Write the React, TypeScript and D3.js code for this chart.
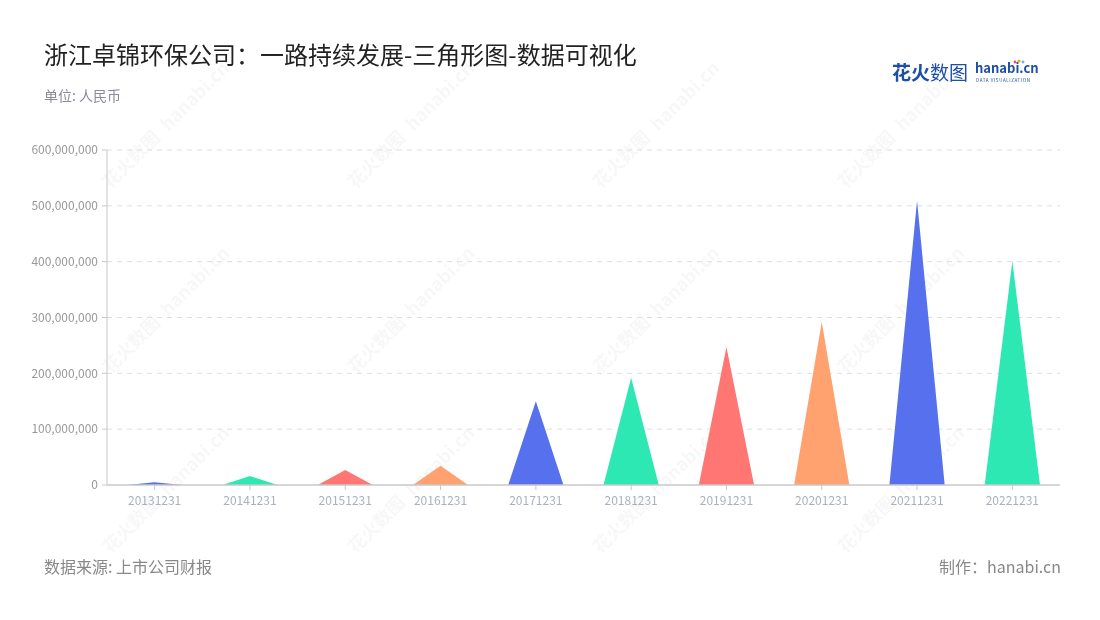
import React from "react";
import * as d3 from "d3";

const categories = ["20131231","20141231","20151231","20161231","20171231","20181231","20191231","20201231","20211231","20221231"];
const values = [5000000, 16000000, 27000000, 34500000, 150000000, 192000000, 247000000, 292000000, 509000000, 401000000];
const colors = ["#5670EE", "#2EE8B3", "#FF7672", "#FFA26F"];
const yTicks = [0, 100000000, 200000000, 300000000, 400000000, 500000000, 600000000];

const W = 1100, H = 620;
const M = { left: 107, right: 1060, top: 150, bottom: 485 };
const FONT = "'Noto Sans CJK SC', 'Noto Sans', sans-serif";

export default function App() {
  const x = d3.scaleBand<string>().domain(categories).range([M.left, M.right]).padding(0);
  const y = d3.scaleLinear().domain([0, 600000000]).range([M.bottom, M.top]);
  const fmt = d3.format(",");
  const halfBase = x.bandwidth() * 0.29;

  const wmX = [150, 395, 640, 885];
  const wmY = [150, 335, 515];

  return (
    <svg width={W} height={H} style={{ display: "block", position: "absolute", left: 0, top: 0 }} fontFamily={FONT}>
      <rect width={W} height={H} fill="#fff" />
      {/* watermarks */}
      <g opacity={0.035} fill="#000">
        {wmY.map((wy) =>
          wmX.map((wx) => (
            <g key={`${wx}-${wy}`} transform={`translate(${wx},${wy}) rotate(-45)`}>
              <text x={-20} y={0} fontSize={18} fontWeight={700} textAnchor="middle">花火数图</text>
              <text x={70} y={0} fontSize={18} fontWeight={700} textAnchor="middle">hanabi.cn</text>
            </g>
          ))
        )}
      </g>

      <text x={44} y={64} fontSize={24} fill="#222">浙江卓锦环保公司：一路持续发展-三角形图-数据可视化</text>
      <text x={44} y={101} fontSize={14} fill="#8a8a99">单位: 人民币</text>

      {/* logo */}
      <g>
        <text x={892} y={80} fontSize={19} fontWeight={700} fill="#1d4ea8">花火</text>
        <text x={930} y={80} fontSize={19} fill="#1d4ea8">数图</text>
        <text x={975} y={73} fontSize={13} fontWeight={700} fill="#1d4ea8">hanabi.cn</text>
        <text x={976} y={82} fontSize={4.5} fill="#1d4ea8" letterSpacing={0.6}>DATA VISUALIZATION</text>
        <circle cx={1019} cy={61} r={1.6} fill="#f5a623" />
        <circle cx={1015} cy={62} r={1.4} fill="#e94e77" />
        <circle cx={1023} cy={62} r={1.4} fill="#4cc3f5" />
      </g>

      {/* grid */}
      {yTicks.filter((t) => t > 0).map((t) => (
        <line key={t} x1={M.left} x2={M.right} y1={y(t)} y2={y(t)} stroke="#dedede" strokeDasharray="5,5" />
      ))}

      {/* y axis */}
      <line x1={M.left} x2={M.left} y1={M.top} y2={M.bottom} stroke="#c8c8c8" strokeWidth={1} />
      {yTicks.map((t) => (
        <g key={t}>
          <line x1={M.left - 5} x2={M.left} y1={y(t)} y2={y(t)} stroke="#c8c8c8" />
          <text x={M.left - 9} y={y(t)} dy="0.35em" fontSize={12} fill="#999" textAnchor="end">{fmt(t)}</text>
        </g>
      ))}

      {/* triangles */}
      {categories.map((c, i) => {
        const cx = (x(c) as number) + x.bandwidth() / 2;
        const path = d3.path();
        path.moveTo(cx - halfBase, y(0));
        path.lineTo(cx, y(values[i]));
        path.lineTo(cx + halfBase, y(0));
        path.closePath();
        return <path key={c} d={path.toString()} fill={colors[i % colors.length]} />;
      })}

      {/* x axis */}
      <line x1={M.left} x2={M.right} y1={M.bottom} y2={M.bottom} stroke="#c8c8c8" strokeWidth={1.5} />
      {categories.map((c) => {
        const cx = (x(c) as number) + x.bandwidth() / 2;
        return (
          <g key={c}>
            <line x1={cx} x2={cx} y1={M.bottom} y2={M.bottom + 5} stroke="#c8c8c8" />
            <text x={cx} y={M.bottom + 20} fontSize={12} fill="#aab0bf" textAnchor="middle">{c}</text>
          </g>
        );
      })}

      <text x={44} y={573} fontSize={16} fill="#888">数据来源: 上市公司财报</text>
      <text x={1061} y={573} fontSize={16} fill="#888" textAnchor="end">制作：hanabi.cn</text>
    </svg>
  );
}
